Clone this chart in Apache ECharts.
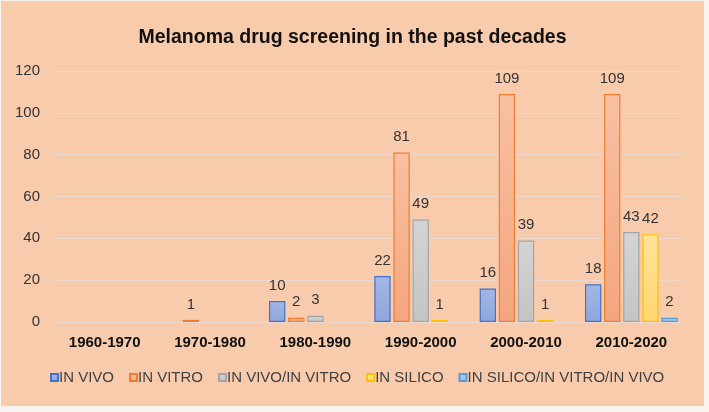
<!DOCTYPE html>
<html>
<head>
<meta charset="utf-8">
<script src="https://cdn.jsdelivr.net/npm/echarts@6/dist/echarts.min.js"></script>
<style>
html,body{margin:0;padding:0;background:#fbf3ee;}
#c{position:absolute;left:1px;top:1px;width:703px;height:405px;background:#f8cbad;}
</style>
</head>
<body>
<div id="c"></div>
<script>
const categories = ['1960-1970','1970-1980','1980-1990','1990-2000','2000-2010','2010-2020'];
const seriesNames = ['IN VIVO','IN VITRO','IN VIVO/IN VITRO','IN SILICO','IN SILICO/IN VITRO/IN VIVO'];
const inVivo = [0,0,10,22,16,18];
const inVitro = [0,1,2,81,109,109];
const inVivoInVitro = [0,0,3,49,39,43];
const inSilico = [0,0,0,1,1,42];
const inSilicoAll = [0,0,0,0,0,2];
const yTicks = [0,20,40,60,80,100,120];

const values = [inVivo,inVitro,inVivoInVitro,inSilico,inSilicoAll];
const fills = [['#a3b7e4','#8ea6dc'],['#f8c0a2','#f4a67e'],['#d4d4d4','#c4c4c4'],['#ffe39a','#ffd670'],['#a9cdee','#95bfe6']];
const borders = ['#4472c4','#ed7d31','#a5a5a5','#ffc000','#5b9bd5'];

const chart = echarts.init(document.getElementById('c'));
chart.setOption({
  animation:false,
  title:{text:'Melanoma drug screening in the past decades',left:'center',top:22,
    textStyle:{fontFamily:'Liberation Sans',fontWeight:'bold',fontSize:19.5,color:'#111'}},
  grid:{left:51,right:20,top:70,bottom:84},
  legend:{bottom:16,left:44,itemWidth:7,itemHeight:7,itemGap:15,icon:'rect',
    textStyle:{fontFamily:'Liberation Sans',fontSize:15,color:'#404040',padding:[0,0,0,-4]},
    data:seriesNames},
  xAxis:{type:'category',data:categories,
    axisLine:{show:false},axisTick:{show:false},
    axisLabel:{fontFamily:'Liberation Sans',fontWeight:'bold',fontSize:15,color:'#111',margin:13}},
  yAxis:{type:'value',min:yTicks[0],max:yTicks[yTicks.length-1],interval:20,
    axisLine:{show:false},axisTick:{show:false},
    axisLabel:{fontFamily:'Liberation Sans',fontSize:15,color:'#333',margin:12},
    splitLine:{lineStyle:{color:'#ecd8cc',width:1}}},
  series: seriesNames.map((n,i)=>({
    name:n,type:'bar',
    data: values[i].map(v=>v===0?null:v),
    barGap:'17%',barCategoryGap:'12%',
    itemStyle:{
      color:new echarts.graphic.LinearGradient(0,0,0,1,[{offset:0,color:fills[i][0]},{offset:1,color:fills[i][1]}]),
      borderColor:borders[i],borderWidth:1.2},
    label:{show:true,position:'top',distance:8,fontFamily:'Liberation Sans',fontSize:15,color:'#333'}
  }))
});
</script>
</body>
</html>
